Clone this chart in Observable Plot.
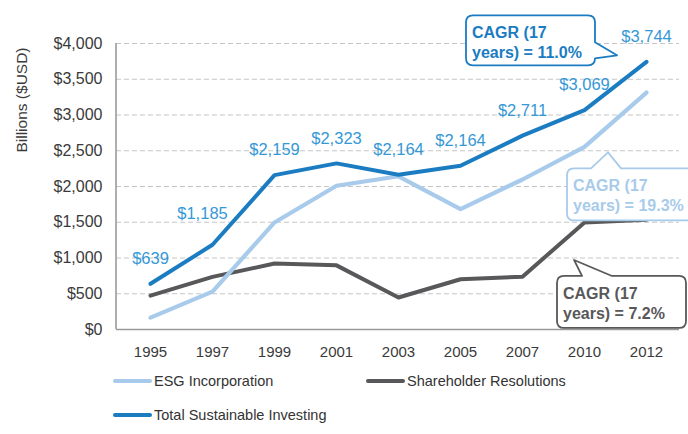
<!DOCTYPE html>
<html>
<head>
<meta charset="utf-8">
<script src="https://cdn.jsdelivr.net/npm/d3@7"></script>
<script src="https://cdn.jsdelivr.net/npm/@observablehq/plot@0.6"></script>
<style>
  html, body { margin: 0; padding: 0; background: #fff; overflow: hidden; }
  body { width: 688px; height: 434px; font-family: "Liberation Sans", Arial, sans-serif; }
  #chart svg { display: block; overflow: hidden; }
  .legend { position: relative; height: 64px; font-size: 14.5px; color: #333; }
  .item { position: absolute; display: flex; align-items: center; white-space: nowrap; }
  .sw { width: 39px; height: 4px; border-radius: 2px; margin-right: 2px; }
</style>
</head>
<body>
<div id="chart"></div>
<div class="legend" id="legend"></div>
<script>
// ---- data ----
const years = ["1995", "1997", "1999", "2001", "2003", "2005", "2007", "2010", "2012"];
const totalValues = [639, 1185, 2159, 2323, 2164, 2290, 2711, 3069, 3744];
const totalLabels = ["$639", "$1,185", "$2,159", "$2,323", "$2,164", "$2,164", "$2,711", "$3,069", "$3,744"];
const esgValues = [166, 529, 1497, 2010, 2143, 1685, 2098, 2554, 3314];
const shareholderValues = [473, 736, 922, 897, 448, 703, 739, 1497, 1536];
const yTicks = [0, 500, 1000, 1500, 2000, 2500, 3000, 3500, 4000];
const seriesNames = ["ESG Incorporation", "Shareholder Resolutions", "Total Sustainable Investing"];
const cagrTexts = [["CAGR (17", "years) = 11.0%"], ["CAGR (17", "years) = 19.3%"], ["CAGR (17", "years) = 7.2%"]];

const colTotal = "#1b7cc2", colTotalLabel = "#3598d6", colEsg = "#a8cbeb", colSh = "#58585a";

const total = years.map((y, i) => ({year: y, value: totalValues[i], label: totalLabels[i]}));
const esg = years.map((y, i) => ({year: y, value: esgValues[i]}));
const sh = years.map((y, i) => ({year: y, value: shareholderValues[i]}));

const fmt = d => "$" + d3.format(",")(d);

const plot = Plot.plot({
  width: 688,
  height: 370,
  marginLeft: 116,
  marginRight: 9,
  marginTop: 43,
  marginBottom: 41,
  style: {fontFamily: "Liberation Sans, Arial, sans-serif", fontSize: "15px", color: "#3a3a3a", background: "#fff"},
  x: {type: "point", domain: years, padding: 0.5},
  y: {domain: [0, 4000]},
  marks: [
    Plot.gridY(yTicks.filter(d => d > 0), {stroke: "#c6c6c6", strokeOpacity: 1, strokeWidth: 1, strokeDasharray: "5,3"}),
    Plot.axisY({ticks: yTicks, tickFormat: fmt, tickSize: 0, tickPadding: 14, fontSize: 16, label: null}),
    Plot.axisX({tickSize: 0, tickPadding: 17, fontSize: 15, label: null}),
    Plot.ruleY([0], {stroke: "#9a9a9a", strokeWidth: 1.6}),
    Plot.line(sh, {x: "year", y: "value", stroke: colSh, strokeWidth: 4}),
    Plot.line(esg, {x: "year", y: "value", stroke: colEsg, strokeWidth: 4.2}),
    Plot.line(total, {x: "year", y: "value", stroke: colTotal, strokeWidth: 4}),
    Plot.text(total.filter(d => d.year !== "1997"), {x: "year", y: "value", text: "label", dy: -25, fill: colTotalLabel, fontSize: 16.5}),
    Plot.text(total.filter(d => d.year === "1997"), {x: "year", y: "value", text: "label", dx: -10, dy: -31, fill: colTotalLabel, fontSize: 16.5})
  ]
});
document.getElementById("chart").appendChild(plot);

const svg = d3.select(plot);
const X = v => plot.scale("x").apply(v);
const Y = v => plot.scale("y").apply(v);
const left = 116;

// left axis line
svg.append("line").attr("x1", left).attr("x2", left).attr("y1", Y(4000)).attr("y2", Y(0))
  .attr("stroke", "#9a9a9a").attr("stroke-width", 1.6);

// y axis title
svg.append("text").attr("transform", `translate(22,${Y(4000) + 57}) rotate(-90)`)
  .attr("text-anchor", "middle").attr("dy", "0.35em")
  .attr("font-size", 15.5).attr("fill", "#3a3a3a").text("Billions ($USD)");

// callouts
function callout(x0, y0, x1, y1, r, tail) {
  const p = [];
  p.push(`M${x0 + r},${y0}`);
  if (tail.side === "top") p.push(`L${tail.a},${y0}L${tail.tx},${tail.ty}L${tail.b},${y0}`);
  p.push(`L${x1 - r},${y0}Q${x1},${y0} ${x1},${y0 + r}`);
  if (tail.side === "right") p.push(`L${x1},${tail.a}L${tail.tx},${tail.ty}L${x1},${tail.b}`);
  p.push(`L${x1},${y1 - r}Q${x1},${y1} ${x1 - r},${y1}`);
  p.push(`L${x0 + r},${y1}Q${x0},${y1} ${x0},${y1 - r}`);
  p.push(`L${x0},${y0 + r}Q${x0},${y0} ${x0 + r},${y0}Z`);
  return p.join("");
}
function drawCallout(box, tail, color, lines, tx) {
  svg.append("path").attr("d", callout(box[0], box[1], box[2], box[3], 7, tail))
    .attr("fill", "#fff").attr("stroke", color).attr("stroke-width", 1.8).attr("stroke-linejoin", "round");
  lines.forEach((t, i) => {
    svg.append("text").attr("x", tx).attr("y", box[1] + 17 + i * 20).attr("dy", "0.35em")
      .attr("text-anchor", "start")
      .attr("font-size", 16).attr("font-weight", "bold").attr("fill", color).text(t);
  });
}
const x12 = X("2012"), x10 = X("2010");
// Total callout
drawCallout([x12 - 180, Y(3744) - 46, x12 - 51, Y(3744) + 4],
  {side: "right", a: Y(3744) - 19, b: Y(3744) - 3, tx: x12 - 29, ty: Y(3744) - 6}, colTotal, cagrTexts[0], x12 - 174);
// ESG callout
drawCallout([x10 - 17, Y(2554) + 22, x10 + 115, Y(2554) + 74],
  {side: "top", a: x10 + 7, b: x10 + 37, tx: x10 + 24, ty: Y(2554) + 6}, colEsg, cagrTexts[1], x10 - 11);
// Shareholder callout
drawCallout([x10 - 27, Y(1497) + 54, x10 + 102, Y(1497) + 106],
  {side: "top", a: x10 - 2, b: x10 + 28, tx: x10 - 10, ty: Y(1497) + 38}, colSh, cagrTexts[2], x10 - 21);

// legend
const legend = document.getElementById("legend");
const items = [
  {name: seriesNames[0], color: colEsg, left: 113, top: 11},
  {name: seriesNames[1], color: colSh, left: 366, top: 11},
  {name: seriesNames[2], color: colTotal, left: 113, top: 45}
];
items.forEach(it => {
  const d = document.createElement("div");
  d.className = "item";
  d.style.left = it.left + "px";
  d.style.top = (it.top - 10) + "px";
  d.style.height = "20px";
  d.innerHTML = `<span class="sw" style="background:${it.color}"></span><span>${it.name}</span>`;
  legend.appendChild(d);
});
</script>
</body>
</html>
